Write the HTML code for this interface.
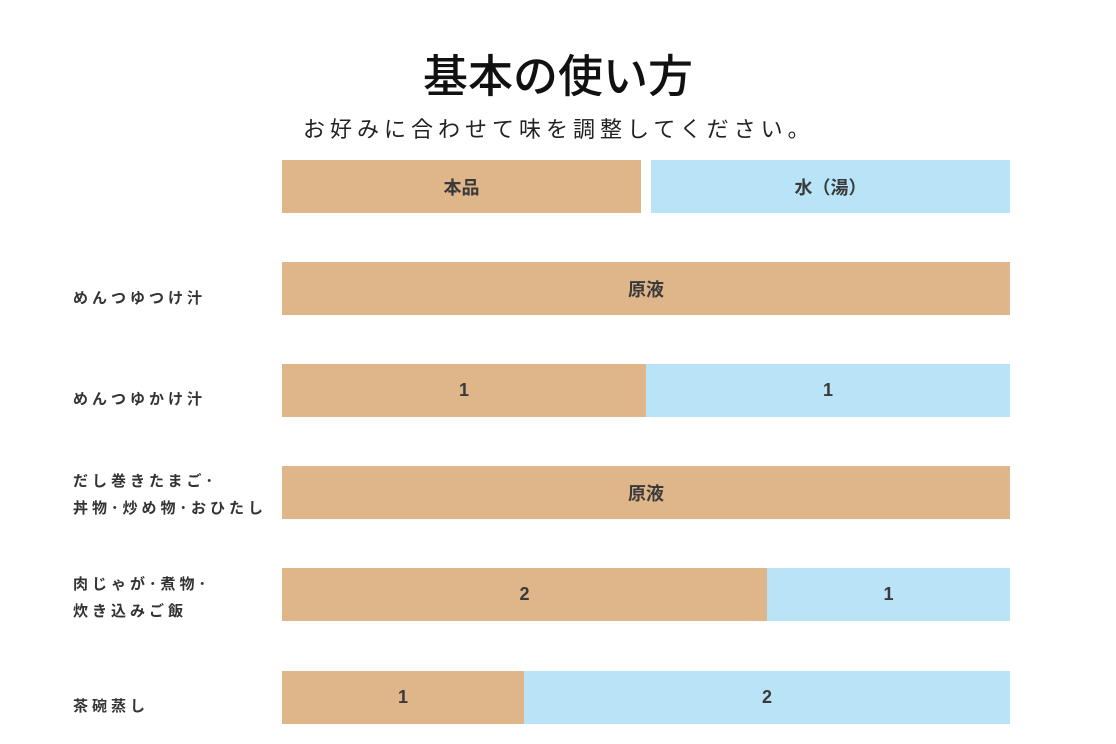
<!DOCTYPE html>
<html><head><meta charset="utf-8"><style>
html,body{margin:0;padding:0;background:#fff;}
body{width:1116px;height:744px;position:relative;overflow:hidden;font-family:"Liberation Sans","Noto Sans CJK JP",sans-serif;color:#222;}
.a{position:absolute;}
.b{position:absolute;height:53px;display:flex;align-items:center;justify-content:center;font-size:18px;font-weight:bold;color:#3a3a3a;}
.tan{background:#dfb58a;}
.blu{background:#b9e3f7;}
.l{position:absolute;left:73px;font-size:15px;font-weight:bold;color:#333;letter-spacing:4px;line-height:27px;}
</style></head><body>
<div class="a" style="left:0;width:1116px;text-align:center;top:40px;font-size:45px;font-weight:500;color:#111;">基本の使い方</div>
<div class="a" style="left:303px;top:112px;font-size:22px;color:#222;letter-spacing:5px;">お好みに合わせて味を調整してください。</div>

<div class="b tan" style="left:282px;top:160px;width:359px;">本品</div>
<div class="b blu" style="left:651px;top:160px;width:359px;">水（湯）</div>

<div class="l" style="top:285px;">めんつゆつけ汁</div>
<div class="b tan" style="left:282px;top:262px;width:728px;">原液</div>

<div class="l" style="top:386px;">めんつゆかけ汁</div>
<div class="b tan" style="left:282px;top:364px;width:364px;">1</div>
<div class="b blu" style="left:646px;top:364px;width:364px;">1</div>

<div class="l" style="top:468px;">だし巻きたまご･<br>丼物･炒め物･おひたし</div>
<div class="b tan" style="left:282px;top:466px;width:728px;">原液</div>

<div class="l" style="top:571px;">肉じゃが･煮物･<br>炊き込みご飯</div>
<div class="b tan" style="left:282px;top:568px;width:485px;">2</div>
<div class="b blu" style="left:767px;top:568px;width:243px;">1</div>

<div class="l" style="top:693px;">茶碗蒸し</div>
<div class="b tan" style="left:282px;top:671px;width:242px;">1</div>
<div class="b blu" style="left:524px;top:671px;width:486px;">2</div>
</body></html>
